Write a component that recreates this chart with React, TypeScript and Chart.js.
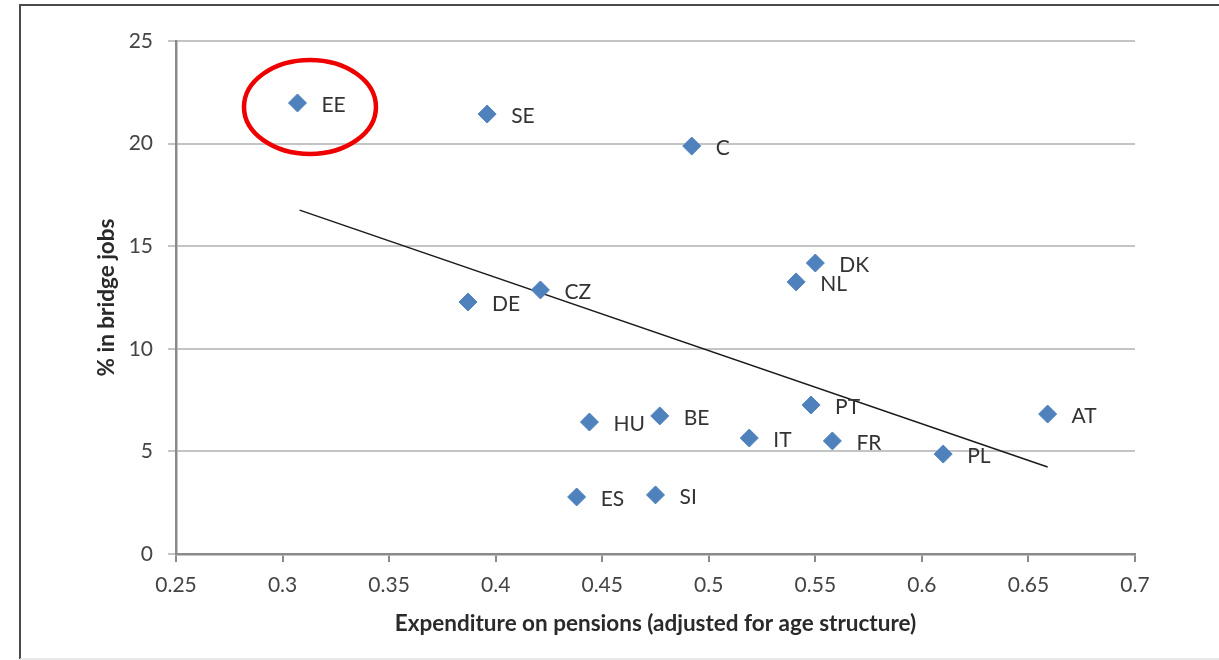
import React, { useEffect, useRef } from 'react';
import { Chart, registerables } from 'chart.js';
Chart.register(...registerables);

const countries = ['EE', 'SE', 'C', 'DK', 'NL', 'CZ', 'DE', 'PT', 'AT', 'HU', 'BE', 'IT', 'FR', 'PL', 'ES', 'SI'];
const pensionExpenditure = [0.307, 0.396, 0.492, 0.55, 0.541, 0.421, 0.387, 0.548, 0.659, 0.444, 0.477, 0.519, 0.558, 0.61, 0.438, 0.475];
const bridgeJobsPct = [21.98, 21.44, 19.88, 14.18, 13.26, 12.87, 12.28, 7.26, 6.82, 6.43, 6.73, 5.65, 5.51, 4.87, 2.78, 2.88];
const trendX = [0.308, 0.659];
const trendY = [16.76, 4.24];
const xTickValues = [0.25, 0.3, 0.35, 0.4, 0.45, 0.5, 0.55, 0.6, 0.65, 0.7];
const yTickValues = [0, 5, 10, 15, 20, 25];
const highlighted = 'EE';
const xTitle = 'Expenditure on pensions (adjusted for age structure)';
const yTitle = '% in bridge jobs';

const FONT = 'Lato, "Open Sans", sans-serif';

export default function App() {
  const ref = useRef<HTMLCanvasElement | null>(null);
  useEffect(() => {
    document.body.style.margin = '0';
    const canvas = ref.current!;
    const framePlugin = {
      id: 'frame',
      beforeDraw(chart: any) {
        const ctx = chart.ctx;
        ctx.save();
        ctx.strokeStyle = '#4a4a4a';
        ctx.lineWidth = 2;
        ctx.beginPath();
        ctx.moveTo(20, 659);
        ctx.lineTo(20, 5);
        ctx.lineTo(1219, 5);
        ctx.stroke();
        ctx.strokeStyle = '#e2e2e2';
        ctx.lineWidth = 1.5;
        ctx.beginPath();
        ctx.moveTo(20, 659);
        ctx.lineTo(1219, 659);
        ctx.stroke();
        ctx.restore();
      },
    };
    const labelPlugin = {
      id: 'pointLabels',
      afterDatasetsDraw(chart: any) {
        const ctx = chart.ctx;
        const xs = chart.scales.x;
        const ys = chart.scales.y;
        ctx.save();
        ctx.font = '21px ' + FONT;
        ctx.fillStyle = '#333333';
        ctx.textAlign = 'left';
        ctx.textBaseline = 'middle';
        countries.forEach((c, i) => {
          const px = xs.getPixelForValue(pensionExpenditure[i]);
          const py = ys.getPixelForValue(bridgeJobsPct[i]);
          ctx.fillText(c, px + 24, py + 2);
          if (c === highlighted) {
            ctx.strokeStyle = '#ee0000';
            ctx.lineWidth = 4.5;
            ctx.beginPath();
            ctx.ellipse(px + 12.5, py + 4, 66, 47, 0, 0, Math.PI * 2);
            ctx.stroke();
          }
        });
        ctx.restore();
      },
    };
    const chart = new Chart(canvas, {
      type: 'scatter',
      data: {
        datasets: [
          {
            label: 'countries',
            data: countries.map((_, i) => ({ x: pensionExpenditure[i], y: bridgeJobsPct[i] })),
            pointStyle: 'rectRot',
            pointRadius: 9,
            backgroundColor: '#4f81bd',
            borderColor: '#4f81bd',
            borderWidth: 1,
          },
          {
            label: 'trend',
            type: 'line',
            data: trendX.map((x, i) => ({ x, y: trendY[i] })),
            showLine: true,
            borderColor: '#1a1a1a',
            borderWidth: 1.5,
            pointRadius: 0,
            fill: false,
          } as any,
        ],
      },
      options: {
        animation: false,
        responsive: false,
        maintainAspectRatio: false,
        events: [],
        layout: { padding: { top: 41, right: 84, left: 0, bottom: 0 } },
        plugins: { legend: { display: false }, tooltip: { enabled: false } },
        scales: {
          x: {
            type: 'linear',
            min: 0.25,
            max: 0.7,
            afterBuildTicks: (s: any) => { s.ticks = xTickValues.map((v) => ({ value: v })); },
            afterFit: (s: any) => { s.height = 106; },
            ticks: {
              callback: (v: any) => String(+Number(v).toFixed(2)),
              font: { family: FONT, size: 21 },
              color: '#444444',
              padding: 11,
              maxRotation: 0,
            },
            grid: { drawOnChartArea: false, drawTicks: true, tickLength: 8, color: '#8a8a8a', lineWidth: 2 },
            border: { display: true, color: '#8a8a8a', width: 2.5 },
            title: {
              display: true,
              text: xTitle,
              font: { family: FONT, size: 22.5, weight: 'bold' },
              color: '#2a2a2a',
              padding: { top: 0, bottom: 23 },
            },
          },
          y: {
            type: 'linear',
            min: 0,
            max: 25,
            afterBuildTicks: (s: any) => { s.ticks = yTickValues.map((v) => ({ value: v })); },
            afterFit: (s: any) => { s.width = 176; },
            ticks: {
              font: { family: FONT, size: 21 },
              color: '#444444',
              padding: 15,
            },
            grid: { drawTicks: true, tickLength: 8, color: '#c4c4c4', lineWidth: 2 },
            border: { display: true, color: '#8a8a8a', width: 2.5 },
            title: {
              display: true,
              text: yTitle,
              font: { family: FONT, size: 22.5, weight: 'bold' },
              color: '#2a2a2a',
              padding: { top: 93, bottom: 0 },
            },
          },
        },
      },
      plugins: [framePlugin, labelPlugin],
    });
    return () => chart.destroy();
  }, []);
  return <canvas ref={ref} width={1219} height={660} style={{ display: 'block' }} />;
}
